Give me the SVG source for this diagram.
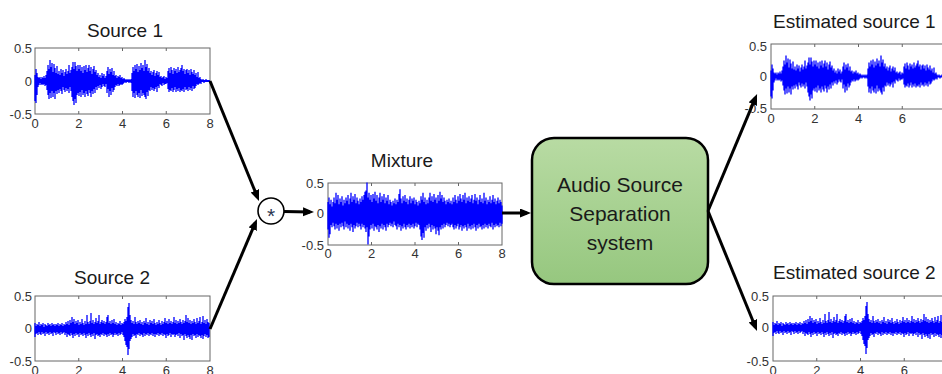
<svg xmlns="http://www.w3.org/2000/svg" xmlns:xlink="http://www.w3.org/1999/xlink" width="942" height="374" viewBox="0 0 942 374">
<style>
.title{font-family:"Liberation Sans",Arial,sans-serif;font-size:19px;fill:#1a1a1a}
.tick{font-family:"Liberation Sans",Arial,sans-serif;font-size:13px;fill:#333}
.frame{fill:#fff;stroke:#666;stroke-width:1}
.tk{stroke:#666;stroke-width:1;fill:none}
.wave{stroke:#0000ff;stroke-width:1.3;fill:none}
.conn{stroke:#000;stroke-width:3;fill:none;marker-end:url(#ah)}
.boxtext{font-family:"Liberation Sans",Arial,sans-serif;font-size:21px;fill:#1a1a1a;text-anchor:middle}
</style>
<defs>
<marker id="ah" markerUnits="userSpaceOnUse" markerWidth="12" markerHeight="10" refX="7" refY="4.5" orient="auto">
<path d="M0,0 L11,4.5 L0,9 z" fill="#000"/>
</marker>
<linearGradient id="g" x1="0" y1="0" x2="0" y2="1">
<stop offset="0" stop-color="#b8dba3"/>
<stop offset="1" stop-color="#96c77f"/>
</linearGradient>
<path id="w1" class="wave" d="M0,0H175 M0,-6V20 M1,-12V22 M2,-8V14 M3,-4V6 M4,-3V4 M5,-4V2 M6,-2V4 M7,-4V3 M8,-3V4 M9,-5V3 M10,-3V5 M11,-6V4 M12,-10V9 M13,-16V14 M14,-12V18 M15,-21V12 M16,-14V17 M17,-18V10 M18,-9V16 M19,-17V12 M20,-13V18 M21,-8V10 M22,-15V13 M23,-7V9 M24,-10V12 M25,-6V8 M26,-12V10 M27,-8V13 M28,-11V6 M29,-5V9 M30,-9V11 M31,-12V7 M32,-7V10 M33,-10V8 M34,-16V12 M35,-8V6 M36,-11V10 M37,-14V16 M38,-19V20 M39,-12V24 M40,-19V18 M41,-15V22 M42,-10V14 M43,-16V12 M44,-12V15 M45,-16V11 M46,-10V16 M47,-14V9 M48,-8V14 M49,-15V12 M50,-11V16 M51,-16V10 M52,-9V13 M53,-13V15 M54,-16V9 M55,-10V12 M56,-14V16 M57,-7V10 M58,-12V13 M59,-15V8 M60,-9V12 M61,-11V6 M62,-6V9 M63,-8V5 M64,-4V7 M65,-6V4 M66,-3V8 M67,-8V6 M68,-5V3 M69,-7V5 M70,-3V6 M71,-5V3 M72,-10V12 M73,-14V8 M74,-7V16 M75,-12V10 M76,-9V14 M77,-13V7 M78,-6V11 M79,-10V9 M80,-5V6 M81,-6V4 M82,-3V5 M83,-5V3 M84,-4V5 M85,-6V4 M86,-3V3 M87,-4V4 M88,-2V3 M89,-3V2 M90,-2V1 M91,-1V2 M92,-2V1 M93,-1V1 M94,-2V2 M95,-1V1 M96,-2V2 M97,-8V10 M98,-14V16 M99,-10V12 M100,-16V17 M101,-12V10 M102,-17V14 M103,-9V16 M104,-15V12 M105,-11V17 M106,-18V9 M107,-13V15 M108,-16V12 M109,-10V14 M110,-21V16 M111,-14V18 M112,-17V11 M113,-10V15 M114,-13V9 M115,-8V10 M116,-10V6 M117,-6V9 M118,-9V7 M119,-11V10 M120,-5V8 M121,-8V6 M122,-10V11 M123,-6V5 M124,-9V7 M125,-4V3 M126,-5V4 M127,-3V5 M128,-4V2 M129,-5V4 M130,-2V3 M131,-4V3 M132,-3V2 M133,-10V8 M134,-13V11 M135,-8V9 M136,-14V10 M137,-11V7 M138,-7V11 M139,-13V9 M140,-10V6 M141,-12V11 M142,-8V8 M143,-14V10 M144,-9V7 M145,-11V11 M146,-13V9 M147,-16V10 M148,-10V8 M149,-12V11 M150,-7V6 M151,-11V9 M152,-12V8 M153,-8V10 M154,-11V6 M155,-6V9 M156,-12V7 M157,-9V10 M158,-7V5 M159,-11V8 M160,-6V7 M161,-8V5 M162,-4V3 M163,-9V4 M164,-3V3 M165,-4V2 M166,-2V3 M167,-1V1 M168,-2V1 M169,-1V2 M170,-1V1 M171,-2V1 M172,-1V1 M173,-1V1 M174,-1V1"/>
<path id="w2" class="wave" d="M0,-6V8 M1,-3V5 M2,-5V4 M3,-4V6 M4,-7V3 M5,-3V5 M6,-5V6 M7,-4V3 M8,-6V5 M9,-2V4 M10,-5V7 M11,-4V3 M12,-3V5 M13,-6V4 M14,-4V6 M15,-5V3 M16,-3V5 M17,-6V4 M18,-4V7 M19,-5V3 M20,-3V4 M21,-5V6 M22,-4V3 M23,-6V5 M24,-3V4 M25,-5V6 M26,-4V3 M27,-6V5 M28,-3V4 M29,-5V3 M30,-4V6 M31,-7V4 M32,-5V8 M33,-8V5 M34,-4V6 M35,-9V7 M36,-6V4 M37,-12V6 M38,-7V9 M39,-10V5 M40,-5V7 M41,-8V4 M42,-6V6 M43,-9V5 M44,-4V8 M45,-7V4 M46,-5V6 M47,-10V5 M48,-6V7 M49,-4V4 M50,-8V6 M51,-5V9 M52,-14V5 M53,-7V7 M54,-5V4 M55,-8V6 M56,-16V8 M57,-6V5 M58,-9V7 M59,-5V4 M60,-7V10 M61,-11V6 M62,-6V5 M63,-8V7 M64,-14V6 M65,-5V8 M66,-7V5 M67,-9V6 M68,-6V4 M69,-8V7 M70,-5V5 M71,-7V6 M72,-12V8 M73,-14V5 M74,-6V7 M75,-8V4 M76,-5V6 M77,-9V5 M78,-6V8 M79,-10V6 M80,-5V4 M81,-7V6 M82,-4V5 M83,-6V7 M84,-5V4 M85,-8V6 M86,-4V5 M87,-6V3 M88,-5V6 M89,-7V8 M90,-10V12 M91,-8V16 M92,-12V18 M93,-22V26 M94,-26V20 M95,-14V12 M96,-9V10 M97,-6V8 M98,-8V5 M99,-5V7 M100,-12V6 M101,-7V9 M102,-5V5 M103,-8V6 M104,-6V4 M105,-9V7 M106,-5V5 M107,-7V6 M108,-4V8 M109,-8V4 M110,-6V7 M111,-11V5 M112,-5V6 M113,-7V4 M114,-4V7 M115,-9V5 M116,-6V6 M117,-8V4 M118,-5V7 M119,-10V5 M120,-6V8 M121,-4V5 M122,-7V6 M123,-5V4 M124,-9V7 M125,-6V5 M126,-4V6 M127,-8V4 M128,-5V7 M129,-7V5 M130,-11V6 M131,-6V9 M132,-8V5 M133,-5V7 M134,-10V6 M135,-6V4 M136,-8V8 M137,-5V5 M138,-7V6 M139,-12V5 M140,-6V8 M141,-9V6 M142,-5V5 M143,-8V7 M144,-6V4 M145,-10V9 M146,-7V5 M147,-5V7 M148,-9V6 M149,-6V11 M150,-8V5 M151,-14V7 M152,-7V9 M153,-11V6 M154,-6V8 M155,-9V10 M156,-5V6 M157,-8V11 M158,-6V5 M159,-10V7 M160,-7V6 M161,-5V9 M162,-11V5 M163,-6V8 M164,-8V6 M165,-12V7 M166,-5V9 M167,-7V6 M168,-13V10 M169,-6V7 M170,-9V5 M171,-5V8 M172,-10V6 M173,-7V9 M174,-6V8"/>
<path id="w3" class="wave" d="M0,-10V14 M1,-14V21 M2,-8V18 M3,-12V10 M4,-6V12 M5,-10V8 M6,-14V11 M7,-9V14 M8,-18V9 M9,-12V13 M10,-16V10 M11,-8V15 M12,-13V9 M13,-10V12 M14,-15V8 M15,-7V11 M16,-12V14 M17,-9V7 M18,-14V12 M19,-11V9 M20,-16V13 M21,-8V10 M22,-13V15 M23,-18V9 M24,-10V12 M25,-15V16 M26,-12V10 M27,-17V13 M28,-9V11 M29,-14V8 M30,-11V12 M31,-8V9 M32,-13V11 M33,-10V14 M34,-15V9 M35,-12V12 M36,-16V10 M37,-19V13 M38,-20V16 M39,-27V12 M40,-14V27 M41,-18V20 M42,-12V14 M43,-16V10 M44,-10V13 M45,-17V9 M46,-13V15 M47,-19V11 M48,-11V12 M49,-16V14 M50,-9V10 M51,-14V16 M52,-18V11 M53,-10V13 M54,-15V9 M55,-12V14 M56,-17V10 M57,-9V12 M58,-14V15 M59,-11V9 M60,-16V12 M61,-8V10 M62,-12V8 M63,-10V11 M64,-7V9 M65,-11V12 M66,-9V7 M67,-13V10 M68,-8V11 M69,-12V14 M70,-10V9 M71,-17V12 M72,-21V10 M73,-13V15 M74,-9V11 M75,-15V13 M76,-11V9 M77,-16V12 M78,-10V14 M79,-13V10 M80,-8V12 M81,-12V9 M82,-15V13 M83,-9V10 M84,-13V12 M85,-11V9 M86,-14V13 M87,-8V11 M88,-12V8 M89,-10V12 M90,-7V9 M91,-11V10 M92,-9V14 M93,-15V20 M94,-12V23 M95,-18V17 M96,-10V21 M97,-14V12 M98,-8V15 M99,-12V10 M100,-9V13 M101,-14V9 M102,-18V12 M103,-11V16 M104,-15V10 M105,-10V14 M106,-17V11 M107,-12V13 M108,-14V18 M109,-9V12 M110,-16V15 M111,-11V19 M112,-19V12 M113,-13V14 M114,-16V10 M115,-10V13 M116,-14V9 M117,-11V12 M118,-8V10 M119,-12V8 M120,-10V11 M121,-13V9 M122,-9V12 M123,-11V10 M124,-8V9 M125,-14V12 M126,-10V14 M127,-16V10 M128,-12V13 M129,-9V11 M130,-15V9 M131,-11V14 M132,-17V12 M133,-13V10 M134,-10V15 M135,-16V11 M136,-12V13 M137,-18V10 M138,-9V12 M139,-14V15 M140,-11V9 M141,-15V13 M142,-10V11 M143,-13V14 M144,-16V10 M145,-9V13 M146,-12V9 M147,-17V12 M148,-11V15 M149,-14V10 M150,-8V13 M151,-12V9 M152,-16V12 M153,-10V11 M154,-13V14 M155,-9V10 M156,-18V13 M157,-11V9 M158,-14V12 M159,-8V10 M160,-12V13 M161,-10V9 M162,-15V11 M163,-9V12 M164,-12V8 M165,-16V14 M166,-10V10 M167,-13V12 M168,-8V9 M169,-11V11 M170,-14V10 M171,-9V12 M172,-12V8 M173,-10V11 M174,-7V9"/>
</defs>
<rect width="942" height="374" fill="#fff"/>

<g id="source1">
<text class="title" x="125" y="37" text-anchor="middle">Source 1</text>
<rect class="frame" x="35" y="48" width="175" height="66"/>
<path class="tk" d="M78.75,48v3M122.5,48v3M166.25,48v3M78.75,114v-3M122.5,114v-3M166.25,114v-3M35,81h3M210,81h-3"/>
<use xlink:href="#w1" href="#w1" transform="translate(35,81)"/>
<g class="tick" text-anchor="end"><text x="32" y="52.5">0.5</text><text x="32" y="85.5">0</text><text x="32" y="118.5">-0.5</text></g>
<g class="tick" text-anchor="middle"><text x="35" y="128">0</text><text x="78.75" y="128">2</text><text x="122.5" y="128">4</text><text x="166.25" y="128">6</text><text x="210" y="128">8</text></g>
</g>

<g id="source2">
<text class="title" x="112" y="284" text-anchor="middle">Source 2</text>
<rect class="frame" x="35" y="296" width="175" height="65"/>
<path class="tk" d="M78.75,296v3M122.5,296v3M166.25,296v3M78.75,361v-3M122.5,361v-3M166.25,361v-3M35,328.5h3M210,328.5h-3"/>
<use xlink:href="#w2" href="#w2" transform="translate(35,329)"/>
<g class="tick" text-anchor="end"><text x="32" y="300.5">0.5</text><text x="32" y="333">0</text><text x="32" y="365.5">-0.5</text></g>
<g class="tick" text-anchor="middle"><text x="35" y="375">0</text><text x="78.75" y="375">2</text><text x="122.5" y="375">4</text><text x="166.25" y="375">6</text><text x="210" y="375">8</text></g>
</g>

<g id="mixer">
<circle cx="271" cy="211" r="13" fill="#fff" stroke="#000" stroke-width="1.6"/>
<text x="271" y="223" text-anchor="middle" style="font-family:'Liberation Sans',Arial,sans-serif;font-size:21px;fill:#2c3550">*</text>
</g>

<g id="mixture">
<text class="title" x="402" y="167" text-anchor="middle">Mixture</text>
<rect class="frame" x="328" y="183" width="174" height="62"/>
<path class="tk" d="M371.5,183v3M415,183v3M458.5,183v3M371.5,245v-3M415,245v-3M458.5,245v-3M328,214h3M502,214h-3"/>
<use xlink:href="#w3" href="#w3" transform="translate(328,213.5) scale(1,1.15)"/>
<g class="tick" text-anchor="end"><text x="324" y="187.5">0.5</text><text x="324" y="218">0</text><text x="324" y="249.5">-0.5</text></g>
<g class="tick" text-anchor="middle"><text x="328" y="258">0</text><text x="371.5" y="258">2</text><text x="415" y="258">4</text><text x="458.5" y="258">6</text><text x="502" y="258">8</text></g>
</g>

<g id="separator">
<rect x="532" y="138" width="176" height="146" rx="22" ry="22" fill="url(#g)" stroke="#000" stroke-width="2.5"/>
<text class="boxtext" x="620" y="192">Audio Source</text>
<text class="boxtext" x="620" y="221">Separation</text>
<text class="boxtext" x="620" y="250">system</text>
</g>

<g id="estimated1">
<text class="title" x="773" y="28">Estimated source 1</text>
<rect class="frame" x="771" y="44" width="175" height="65"/>
<path class="tk" d="M814.75,44v3M858.5,44v3M902.25,44v3M814.75,109v-3M858.5,109v-3M902.25,109v-3M771,76.5h3"/>
<use xlink:href="#w1" href="#w1" transform="translate(771,76.5)"/>
<g class="tick" text-anchor="end"><text x="767" y="51">0.5</text><text x="767" y="81">0</text><text x="767" y="113">-0.5</text></g>
<g class="tick" text-anchor="middle"><text x="771" y="123">0</text><text x="814.75" y="123">2</text><text x="858.5" y="123">4</text><text x="902.25" y="123">6</text><text x="946" y="123">8</text></g>
</g>

<g id="estimated2">
<text class="title" x="773" y="279">Estimated source 2</text>
<rect class="frame" x="773" y="296" width="175" height="65"/>
<path class="tk" d="M816.75,296v3M860.5,296v3M904.25,296v3M816.75,361v-3M860.5,361v-3M904.25,361v-3M773,328.5h3"/>
<use xlink:href="#w2" href="#w2" transform="translate(773,328)"/>
<g class="tick" text-anchor="end"><text x="769" y="300.5">0.5</text><text x="769" y="332">0</text><text x="769" y="365.5">-0.5</text></g>
<g class="tick" text-anchor="middle"><text x="773" y="375">0</text><text x="816.75" y="375">2</text><text x="860.5" y="375">4</text><text x="904.25" y="375">6</text></g>
</g>

<g id="connectors">
<path class="conn" d="M210,81 L257.5,197.3"/>
<path class="conn" d="M210,329 L255.4,222.7"/>
<path class="conn" d="M284,211.5 L310,212"/>
<path class="conn" d="M502,213 L527,213"/>
<path class="conn" d="M708,211 L755.5,97.7"/>
<path class="conn" d="M708,211 L755.5,327.3"/>
</g>
</svg>
